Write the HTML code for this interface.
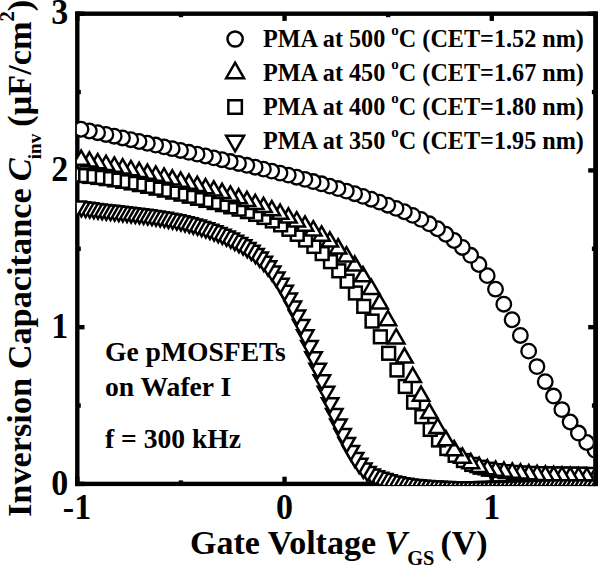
<!DOCTYPE html>
<html><head><meta charset="utf-8"><style>html,body{margin:0;padding:0;background:#fff;width:598px;height:566px;overflow:hidden}svg{display:block}</style></head>
<body><svg width="598" height="566" viewBox="0 0 598 566">
<defs><clipPath id="pc"><rect x="76.9" y="0" width="516.4" height="485.0"/></clipPath></defs>
<rect width="598" height="566" fill="#fff"/>
<g fill="#000">
<rect x="75.10" y="11.50" width="4.4" height="474.60"/>
<rect x="75.10" y="481.70" width="522.50" height="4.4"/>
<rect x="75.10" y="476.70" width="4.4" height="7.20"/><rect x="75.10" y="13.70" width="4.4" height="7.20"/><rect x="178.72" y="480.40" width="4.4" height="3.50"/><rect x="178.72" y="13.70" width="4.4" height="3.50"/><rect x="282.34" y="476.70" width="4.4" height="7.20"/><rect x="282.34" y="13.70" width="4.4" height="7.20"/><rect x="385.96" y="480.40" width="4.4" height="3.50"/><rect x="385.96" y="13.70" width="4.4" height="3.50"/><rect x="489.58" y="476.70" width="4.4" height="7.20"/><rect x="489.58" y="13.70" width="4.4" height="7.20"/><rect x="593.20" y="480.40" width="4.4" height="3.50"/><rect x="593.20" y="13.70" width="4.4" height="3.50"/><rect x="77.30" y="481.70" width="7.20" height="4.4"/><rect x="588.20" y="481.70" width="7.20" height="4.4"/><rect x="77.30" y="403.33" width="3.50" height="4.4"/><rect x="591.90" y="403.33" width="3.50" height="4.4"/><rect x="77.30" y="324.97" width="7.20" height="4.4"/><rect x="588.20" y="324.97" width="7.20" height="4.4"/><rect x="77.30" y="246.60" width="3.50" height="4.4"/><rect x="591.90" y="246.60" width="3.50" height="4.4"/><rect x="77.30" y="168.23" width="7.20" height="4.4"/><rect x="588.20" y="168.23" width="7.20" height="4.4"/><rect x="77.30" y="89.87" width="3.50" height="4.4"/><rect x="591.90" y="89.87" width="3.50" height="4.4"/><rect x="77.30" y="11.50" width="7.20" height="4.4"/><rect x="588.20" y="11.50" width="7.20" height="4.4"/>
</g>
<g clip-path="url(#pc)" fill="#fff" stroke="#000">
<g stroke-width="2.3"><circle cx="636.43" cy="473.70" r="7.3" /><circle cx="628.14" cy="469.19" r="7.3" /><circle cx="619.85" cy="464.69" r="7.3" /><circle cx="611.56" cy="460.18" r="7.3" /><circle cx="603.27" cy="455.67" r="7.3" /><circle cx="594.98" cy="450.12" r="7.3" /><circle cx="586.69" cy="442.50" r="7.3" /><circle cx="578.40" cy="433.04" r="7.3" /><circle cx="570.11" cy="421.99" r="7.3" /><circle cx="561.82" cy="409.59" r="7.3" /><circle cx="553.53" cy="396.06" r="7.3" /><circle cx="545.24" cy="381.66" r="7.3" /><circle cx="536.95" cy="366.60" r="7.3" /><circle cx="528.66" cy="351.14" r="7.3" /><circle cx="520.37" cy="335.46" r="7.3" /><circle cx="512.08" cy="319.75" r="7.3" /><circle cx="503.79" cy="304.20" r="7.3" /><circle cx="495.50" cy="289.15" r="7.3" /><circle cx="487.21" cy="275.64" r="7.3" /><circle cx="478.92" cy="264.48" r="7.3" /><circle cx="470.63" cy="255.29" r="7.3" /><circle cx="462.34" cy="247.44" r="7.3" /><circle cx="454.05" cy="240.48" r="7.3" /><circle cx="445.76" cy="234.27" r="7.3" /><circle cx="437.47" cy="228.74" r="7.3" /><circle cx="429.18" cy="223.80" r="7.3" /><circle cx="420.89" cy="219.37" r="7.3" /><circle cx="412.60" cy="215.38" r="7.3" /><circle cx="404.31" cy="211.74" r="7.3" /><circle cx="396.02" cy="208.37" r="7.3" /><circle cx="387.73" cy="205.19" r="7.3" /><circle cx="379.44" cy="202.14" r="7.3" /><circle cx="371.15" cy="199.21" r="7.3" /><circle cx="362.86" cy="196.39" r="7.3" /><circle cx="354.57" cy="193.69" r="7.3" /><circle cx="346.28" cy="191.08" r="7.3" /><circle cx="337.99" cy="188.57" r="7.3" /><circle cx="329.70" cy="186.14" r="7.3" /><circle cx="321.41" cy="183.80" r="7.3" /><circle cx="313.12" cy="181.53" r="7.3" /><circle cx="304.83" cy="179.34" r="7.3" /><circle cx="296.54" cy="177.20" r="7.3" /><circle cx="288.25" cy="175.12" r="7.3" /><circle cx="279.96" cy="173.09" r="7.3" /><circle cx="271.67" cy="171.10" r="7.3" /><circle cx="263.38" cy="169.14" r="7.3" /><circle cx="255.09" cy="167.22" r="7.3" /><circle cx="246.80" cy="165.32" r="7.3" /><circle cx="238.51" cy="163.43" r="7.3" /><circle cx="230.22" cy="161.56" r="7.3" /><circle cx="221.93" cy="159.69" r="7.3" /><circle cx="213.64" cy="157.83" r="7.3" /><circle cx="205.35" cy="155.98" r="7.3" /><circle cx="197.06" cy="154.13" r="7.3" /><circle cx="188.77" cy="152.30" r="7.3" /><circle cx="180.48" cy="150.47" r="7.3" /><circle cx="172.19" cy="148.66" r="7.3" /><circle cx="163.90" cy="146.85" r="7.3" /><circle cx="155.61" cy="145.05" r="7.3" /><circle cx="147.32" cy="143.26" r="7.3" /><circle cx="139.03" cy="141.48" r="7.3" /><circle cx="130.74" cy="139.70" r="7.3" /><circle cx="122.45" cy="137.94" r="7.3" /><circle cx="114.16" cy="136.18" r="7.3" /><circle cx="105.87" cy="134.44" r="7.3" /><circle cx="97.58" cy="132.71" r="7.3" /><circle cx="89.29" cy="130.98" r="7.3" /><circle cx="81.00" cy="129.26" r="7.3" /></g>
<g stroke-width="2.5"><rect x="631.57" y="472.09" width="12.8" height="12.8"/><rect x="623.26" y="471.15" width="12.8" height="12.8"/><rect x="614.95" y="470.21" width="12.8" height="12.8"/><rect x="606.64" y="469.36" width="12.8" height="12.8"/><rect x="598.33" y="468.72" width="12.8" height="12.8"/><rect x="590.02" y="468.26" width="12.8" height="12.8"/><rect x="581.71" y="467.96" width="12.8" height="12.8"/><rect x="573.40" y="467.76" width="12.8" height="12.8"/><rect x="565.09" y="467.65" width="12.8" height="12.8"/><rect x="556.78" y="467.57" width="12.8" height="12.8"/><rect x="548.47" y="467.50" width="12.8" height="12.8"/><rect x="540.16" y="467.41" width="12.8" height="12.8"/><rect x="531.85" y="467.24" width="12.8" height="12.8"/><rect x="523.54" y="466.98" width="12.8" height="12.8"/><rect x="515.23" y="466.58" width="12.8" height="12.8"/><rect x="506.92" y="466.01" width="12.8" height="12.8"/><rect x="498.61" y="465.24" width="12.8" height="12.8"/><rect x="490.30" y="464.21" width="12.8" height="12.8"/><rect x="481.99" y="462.83" width="12.8" height="12.8"/><rect x="473.68" y="460.84" width="12.8" height="12.8"/><rect x="465.37" y="458.02" width="12.8" height="12.8"/><rect x="457.06" y="454.12" width="12.8" height="12.8"/><rect x="448.75" y="448.90" width="12.8" height="12.8"/><rect x="440.44" y="442.13" width="12.8" height="12.8"/><rect x="432.13" y="433.57" width="12.8" height="12.8"/><rect x="423.82" y="422.98" width="12.8" height="12.8"/><rect x="415.51" y="410.25" width="12.8" height="12.8"/><rect x="407.20" y="395.78" width="12.8" height="12.8"/><rect x="398.89" y="380.06" width="12.8" height="12.8"/><rect x="390.58" y="363.59" width="12.8" height="12.8"/><rect x="382.27" y="346.88" width="12.8" height="12.8"/><rect x="373.96" y="330.41" width="12.8" height="12.8"/><rect x="365.65" y="314.67" width="12.8" height="12.8"/><rect x="357.34" y="299.97" width="12.8" height="12.8"/><rect x="349.03" y="286.60" width="12.8" height="12.8"/><rect x="340.72" y="274.79" width="12.8" height="12.8"/><rect x="332.41" y="264.41" width="12.8" height="12.8"/><rect x="324.10" y="255.28" width="12.8" height="12.8"/><rect x="315.79" y="247.21" width="12.8" height="12.8"/><rect x="307.48" y="240.01" width="12.8" height="12.8"/><rect x="299.17" y="233.61" width="12.8" height="12.8"/><rect x="290.86" y="227.92" width="12.8" height="12.8"/><rect x="282.55" y="222.89" width="12.8" height="12.8"/><rect x="274.24" y="218.45" width="12.8" height="12.8"/><rect x="265.93" y="214.53" width="12.8" height="12.8"/><rect x="257.62" y="211.06" width="12.8" height="12.8"/><rect x="249.31" y="207.99" width="12.8" height="12.8"/><rect x="241.00" y="205.23" width="12.8" height="12.8"/><rect x="232.69" y="202.74" width="12.8" height="12.8"/><rect x="224.38" y="200.44" width="12.8" height="12.8"/><rect x="216.07" y="198.26" width="12.8" height="12.8"/><rect x="207.76" y="196.15" width="12.8" height="12.8"/><rect x="199.45" y="194.03" width="12.8" height="12.8"/><rect x="191.14" y="191.93" width="12.8" height="12.8"/><rect x="182.83" y="189.83" width="12.8" height="12.8"/><rect x="174.52" y="187.76" width="12.8" height="12.8"/><rect x="166.21" y="185.73" width="12.8" height="12.8"/><rect x="157.90" y="183.75" width="12.8" height="12.8"/><rect x="149.59" y="181.83" width="12.8" height="12.8"/><rect x="141.28" y="179.98" width="12.8" height="12.8"/><rect x="132.97" y="178.22" width="12.8" height="12.8"/><rect x="124.66" y="176.55" width="12.8" height="12.8"/><rect x="116.35" y="174.98" width="12.8" height="12.8"/><rect x="108.04" y="173.54" width="12.8" height="12.8"/><rect x="99.73" y="172.23" width="12.8" height="12.8"/><rect x="91.42" y="171.06" width="12.8" height="12.8"/><rect x="83.11" y="170.05" width="12.8" height="12.8"/><rect x="74.80" y="169.20" width="12.8" height="12.8"/><rect x="66.49" y="168.43" width="12.8" height="12.8"/></g>
<g stroke-width="2.5" stroke-linejoin="miter"><path d="M636.58,468.33L644.80,482.58L628.35,482.58Z"/><path d="M628.29,468.38L636.51,482.63L620.06,482.63Z"/><path d="M620.00,468.43L628.23,482.68L611.77,482.68Z"/><path d="M611.71,468.45L619.94,482.69L603.49,482.69Z"/><path d="M603.42,468.40L611.65,482.65L595.20,482.65Z"/><path d="M595.13,468.30L603.36,482.54L586.91,482.54Z"/><path d="M586.84,468.13L595.07,482.37L578.62,482.37Z"/><path d="M578.55,467.89L586.78,482.13L570.33,482.13Z"/><path d="M570.26,467.58L578.49,481.83L562.04,481.83Z"/><path d="M561.97,467.21L570.20,481.46L553.75,481.46Z"/><path d="M553.68,466.77L561.91,481.02L545.46,481.02Z"/><path d="M545.39,466.26L553.62,480.50L537.17,480.50Z"/><path d="M537.10,465.67L545.33,479.92L528.88,479.92Z"/><path d="M528.81,465.02L537.04,479.26L520.59,479.26Z"/><path d="M520.52,464.28L528.75,478.53L512.30,478.53Z"/><path d="M512.23,463.47L520.46,477.72L504.01,477.72Z"/><path d="M503.94,462.59L512.17,476.84L495.72,476.84Z"/><path d="M495.65,461.56L503.88,475.80L487.43,475.80Z"/><path d="M487.36,460.04L495.59,474.29L479.14,474.29Z"/><path d="M479.07,457.63L487.30,471.88L470.85,471.88Z"/><path d="M470.78,453.92L479.01,468.17L462.56,468.17Z"/><path d="M462.49,448.52L470.72,462.76L454.27,462.76Z"/><path d="M454.20,441.01L462.43,455.25L445.98,455.25Z"/><path d="M445.91,431.06L454.14,445.30L437.69,445.30Z"/><path d="M437.62,418.63L445.85,432.88L429.40,432.88Z"/><path d="M429.33,403.76L437.56,418.01L421.11,418.01Z"/><path d="M421.04,386.58L429.27,400.83L412.82,400.83Z"/><path d="M412.75,367.76L420.98,382.00L404.53,382.00Z"/><path d="M404.46,348.28L412.69,362.53L396.24,362.53Z"/><path d="M396.17,329.14L404.40,343.39L387.95,343.39Z"/><path d="M387.88,310.97L396.11,325.21L379.66,325.21Z"/><path d="M379.59,294.33L387.82,308.57L371.37,308.57Z"/><path d="M371.30,279.68L379.53,293.92L363.08,293.92Z"/><path d="M363.01,267.05L371.24,281.30L354.79,281.30Z"/><path d="M354.72,256.33L362.95,270.57L346.50,270.57Z"/><path d="M346.43,247.17L354.66,261.42L338.21,261.42Z"/><path d="M338.14,239.25L346.37,253.50L329.92,253.50Z"/><path d="M329.85,232.37L338.08,246.62L321.62,246.62Z"/><path d="M321.56,226.39L329.79,240.63L313.33,240.63Z"/><path d="M313.27,221.13L321.50,235.38L305.04,235.38Z"/><path d="M304.98,216.46L313.20,230.71L296.75,230.71Z"/><path d="M296.69,212.22L304.91,226.46L288.46,226.46Z"/><path d="M288.40,208.26L296.62,222.51L280.17,222.51Z"/><path d="M280.11,204.57L288.33,218.81L271.88,218.81Z"/><path d="M271.82,201.10L280.04,215.34L263.59,215.34Z"/><path d="M263.53,197.83L271.75,212.08L255.30,212.08Z"/><path d="M255.24,194.75L263.46,209.00L247.01,209.00Z"/><path d="M246.95,191.83L255.17,206.08L238.72,206.08Z"/><path d="M238.66,189.05L246.88,203.29L230.43,203.29Z"/><path d="M230.37,186.38L238.59,200.63L222.14,200.63Z"/><path d="M222.08,183.82L230.30,198.07L213.85,198.07Z"/><path d="M213.79,181.36L222.01,195.61L205.56,195.61Z"/><path d="M205.50,179.00L213.72,193.25L197.27,193.25Z"/><path d="M197.21,176.73L205.43,190.97L188.98,190.97Z"/><path d="M188.92,174.54L197.14,188.78L180.69,188.78Z"/><path d="M180.63,172.42L188.85,186.67L172.40,186.67Z"/><path d="M172.34,170.37L180.56,184.62L164.11,184.62Z"/><path d="M164.05,168.39L172.27,182.64L155.82,182.64Z"/><path d="M155.76,166.46L163.98,180.71L147.53,180.71Z"/><path d="M147.47,164.58L155.69,178.83L139.24,178.83Z"/><path d="M139.18,162.75L147.40,177.00L130.95,177.00Z"/><path d="M130.89,160.95L139.11,175.20L122.66,175.20Z"/><path d="M122.60,159.18L130.82,173.43L114.37,173.43Z"/><path d="M114.31,157.44L122.53,171.69L106.08,171.69Z"/><path d="M106.02,155.71L114.24,169.96L97.79,169.96Z"/><path d="M97.73,154.00L105.95,168.24L89.50,168.24Z"/><path d="M89.44,152.28L97.66,166.53L81.22,166.53Z"/><path d="M81.15,150.57L89.38,164.82L72.93,164.82Z"/></g>
<g stroke-width="2.5" stroke-linejoin="miter"><path d="M636.87,497.96L645.10,483.71L628.65,483.71Z"/><path d="M632.73,497.69L640.95,483.44L624.50,483.44Z"/><path d="M628.58,497.41L636.81,483.17L620.36,483.17Z"/><path d="M624.44,497.14L632.66,482.89L616.21,482.89Z"/><path d="M620.29,496.87L628.52,482.62L612.07,482.62Z"/><path d="M616.15,496.59L624.37,482.35L607.92,482.35Z"/><path d="M612.00,496.32L620.23,482.07L603.78,482.07Z"/><path d="M607.86,496.05L616.08,481.80L599.63,481.80Z"/><path d="M603.71,495.77L611.94,481.53L595.49,481.53Z"/><path d="M599.57,495.50L607.79,481.25L591.34,481.25Z"/><path d="M595.42,495.25L603.65,481.00L587.20,481.00Z"/><path d="M591.28,495.04L599.50,480.79L583.05,480.79Z"/><path d="M587.13,494.86L595.36,480.61L578.91,480.61Z"/><path d="M582.99,494.71L591.21,480.47L574.76,480.47Z"/><path d="M578.84,494.60L587.07,480.36L570.62,480.36Z"/><path d="M574.70,494.52L582.92,480.27L566.47,480.27Z"/><path d="M570.55,494.46L578.78,480.22L562.33,480.22Z"/><path d="M566.41,494.43L574.63,480.19L558.18,480.19Z"/><path d="M562.26,494.43L570.49,480.18L554.04,480.18Z"/><path d="M558.12,494.44L566.34,480.20L549.89,480.20Z"/><path d="M553.97,494.48L562.20,480.23L545.75,480.23Z"/><path d="M549.83,494.53L558.05,480.29L541.60,480.29Z"/><path d="M545.68,494.60L553.91,480.36L537.46,480.36Z"/><path d="M541.54,494.69L549.76,480.44L533.31,480.44Z"/><path d="M537.39,494.79L545.62,480.54L529.17,480.54Z"/><path d="M533.25,494.90L541.47,480.65L525.02,480.65Z"/><path d="M529.10,495.01L537.33,480.77L520.88,480.77Z"/><path d="M524.96,495.14L533.18,480.89L516.73,480.89Z"/><path d="M520.81,495.27L529.04,481.02L512.59,481.02Z"/><path d="M516.67,495.40L524.89,481.15L508.44,481.15Z"/><path d="M512.52,495.53L520.75,481.29L504.30,481.29Z"/><path d="M508.38,495.67L516.60,481.42L500.15,481.42Z"/><path d="M504.23,495.80L512.46,481.55L496.01,481.55Z"/><path d="M500.09,495.92L508.31,481.68L491.86,481.68Z"/><path d="M495.94,496.04L504.17,481.80L487.72,481.80Z"/><path d="M491.80,496.15L500.02,481.91L483.57,481.91Z"/><path d="M487.65,496.26L495.88,482.01L479.43,482.01Z"/><path d="M483.51,496.34L491.73,482.10L475.28,482.10Z"/><path d="M479.36,496.42L487.59,482.17L471.14,482.17Z"/><path d="M475.22,496.48L483.44,482.23L466.99,482.23Z"/><path d="M471.07,496.52L479.30,482.28L462.85,482.28Z"/><path d="M466.93,496.54L475.15,482.30L458.70,482.30Z"/><path d="M462.78,496.55L471.01,482.30L454.56,482.30Z"/><path d="M458.64,496.52L466.86,482.28L450.41,482.28Z"/><path d="M454.49,496.48L462.72,482.23L446.27,482.23Z"/><path d="M450.35,496.40L458.57,482.15L442.12,482.15Z"/><path d="M446.20,496.30L454.43,482.05L437.98,482.05Z"/><path d="M442.06,496.16L450.28,481.92L433.83,481.92Z"/><path d="M437.91,495.99L446.14,481.75L429.69,481.75Z"/><path d="M433.77,495.79L441.99,481.55L425.54,481.55Z"/><path d="M429.62,495.55L437.85,481.31L421.40,481.31Z"/><path d="M425.48,495.28L433.70,481.03L417.25,481.03Z"/><path d="M421.33,494.96L429.56,480.71L413.11,480.71Z"/><path d="M417.19,494.59L425.41,480.35L408.96,480.35Z"/><path d="M413.04,494.17L421.27,479.92L404.82,479.92Z"/><path d="M408.90,493.67L417.12,479.42L400.67,479.42Z"/><path d="M404.75,493.08L412.98,478.83L396.53,478.83Z"/><path d="M400.61,492.38L408.83,478.14L392.38,478.14Z"/><path d="M396.46,491.57L404.69,477.33L388.24,477.33Z"/><path d="M392.32,490.64L400.54,476.39L384.09,476.39Z"/><path d="M388.17,489.57L396.40,475.32L379.95,475.32Z"/><path d="M384.03,488.36L392.25,474.11L375.80,474.11Z"/><path d="M379.88,487.00L388.11,472.76L371.66,472.76Z"/><path d="M375.74,485.49L383.96,471.25L367.51,471.25Z"/><path d="M371.59,483.65L379.82,469.41L363.37,469.41Z"/><path d="M367.45,481.18L375.67,466.93L359.22,466.93Z"/><path d="M363.30,477.75L371.53,463.50L355.08,463.50Z"/><path d="M359.16,473.10L367.38,458.85L350.93,458.85Z"/><path d="M355.01,467.22L363.24,452.97L346.79,452.97Z"/><path d="M350.87,460.22L359.09,445.98L342.64,445.98Z"/><path d="M346.72,452.22L354.95,437.97L338.50,437.97Z"/><path d="M342.58,443.32L350.80,429.08L334.35,429.08Z"/><path d="M338.43,433.65L346.66,419.40L330.21,419.40Z"/><path d="M334.29,423.30L342.51,409.06L326.06,409.06Z"/><path d="M330.14,412.41L338.37,398.16L321.92,398.16Z"/><path d="M326.00,401.08L334.22,386.84L317.77,386.84Z"/><path d="M321.85,389.51L330.08,375.27L313.63,375.27Z"/><path d="M317.71,377.89L325.94,363.64L309.48,363.64Z"/><path d="M313.56,366.41L321.79,352.16L305.34,352.16Z"/><path d="M309.42,355.25L317.65,341.01L301.19,341.01Z"/><path d="M305.28,344.53L313.50,330.28L297.05,330.28Z"/><path d="M301.13,334.33L309.36,320.08L292.91,320.08Z"/><path d="M296.99,324.74L305.21,310.50L288.76,310.50Z"/><path d="M292.84,315.85L301.07,301.60L284.62,301.60Z"/><path d="M288.70,307.63L296.92,293.39L280.47,293.39Z"/><path d="M284.55,300.05L292.78,285.81L276.33,285.81Z"/><path d="M280.41,293.08L288.63,278.83L272.18,278.83Z"/><path d="M276.26,286.67L284.49,272.42L268.04,272.42Z"/><path d="M272.12,280.83L280.34,266.58L263.89,266.58Z"/><path d="M267.97,275.57L276.20,261.32L259.75,261.32Z"/><path d="M263.83,270.89L272.05,256.65L255.60,256.65Z"/><path d="M259.68,266.79L267.91,252.54L251.46,252.54Z"/><path d="M255.54,263.19L263.76,248.94L247.31,248.94Z"/><path d="M251.39,260.01L259.62,245.76L243.17,245.76Z"/><path d="M247.25,257.16L255.47,242.91L239.02,242.91Z"/><path d="M243.10,254.54L251.33,240.30L234.88,240.30Z"/><path d="M238.96,252.13L247.18,237.88L230.73,237.88Z"/><path d="M234.81,249.89L243.04,235.64L226.59,235.64Z"/><path d="M230.67,247.79L238.89,233.54L222.44,233.54Z"/><path d="M226.52,245.81L234.75,231.57L218.30,231.57Z"/><path d="M222.38,243.95L230.60,229.70L214.15,229.70Z"/><path d="M218.23,242.19L226.46,227.94L210.01,227.94Z"/><path d="M214.09,240.54L222.31,226.29L205.86,226.29Z"/><path d="M209.94,238.98L218.17,224.73L201.72,224.73Z"/><path d="M205.80,237.51L214.02,223.27L197.57,223.27Z"/><path d="M201.65,236.14L209.88,221.89L193.43,221.89Z"/><path d="M197.51,234.85L205.73,220.61L189.28,220.61Z"/><path d="M193.36,233.64L201.59,219.40L185.14,219.40Z"/><path d="M189.22,232.52L197.44,218.27L180.99,218.27Z"/><path d="M185.07,231.46L193.30,217.21L176.85,217.21Z"/><path d="M180.93,230.47L189.15,216.22L172.70,216.22Z"/><path d="M176.78,229.55L185.01,215.30L168.56,215.30Z"/><path d="M172.64,228.68L180.86,214.44L164.41,214.44Z"/><path d="M168.49,227.88L176.72,213.63L160.27,213.63Z"/><path d="M164.35,227.12L172.57,212.87L156.12,212.87Z"/><path d="M160.20,226.41L168.43,212.17L151.98,212.17Z"/><path d="M156.06,225.75L164.28,211.50L147.83,211.50Z"/><path d="M151.91,225.12L160.13,210.88L143.69,210.88Z"/><path d="M147.76,224.53L155.99,210.29L139.54,210.29Z"/><path d="M143.62,223.97L151.84,209.73L135.39,209.73Z"/><path d="M139.47,223.44L147.70,209.20L131.25,209.20Z"/><path d="M135.33,222.93L143.55,208.69L127.10,208.69Z"/><path d="M131.18,222.44L139.41,208.19L122.96,208.19Z"/><path d="M127.04,221.96L135.26,207.72L118.81,207.72Z"/><path d="M122.89,221.49L131.12,207.25L114.67,207.25Z"/><path d="M118.75,221.03L126.97,206.79L110.52,206.79Z"/><path d="M114.60,220.57L122.83,206.32L106.38,206.32Z"/><path d="M110.46,220.11L118.68,205.86L102.23,205.86Z"/><path d="M106.31,219.63L114.54,205.39L98.09,205.39Z"/><path d="M102.17,219.15L110.39,204.91L93.94,204.91Z"/><path d="M98.02,218.65L106.25,204.41L89.80,204.41Z"/><path d="M93.88,218.14L102.10,203.89L85.65,203.89Z"/><path d="M89.73,217.59L97.96,203.35L81.51,203.35Z"/><path d="M85.59,217.02L93.81,202.78L77.36,202.78Z"/><path d="M81.44,216.42L89.67,202.18L73.22,202.18Z"/><path d="M77.30,215.78L85.52,201.54L69.08,201.54Z"/></g>
</g>
<g fill="#000">
<rect x="75.10" y="11.50" width="522.50" height="4.4"/>
<rect x="593.20" y="11.50" width="4.80" height="474.60"/>
</g>
<g fill="#fff" stroke="#000" stroke-width="2.5"><circle cx="235.10" cy="39.00" r="7.6" /><path d="M235.10,62.67L244.05,78.17L226.15,78.17Z"/><rect x="228.35" y="100.25" width="13.5" height="13.5"/><path d="M235.10,151.33L244.05,135.83L226.15,135.83Z"/></g>
<g font-family="'Liberation Serif', serif" font-weight="bold" fill="#000">
<text x="263" y="46.70" font-size="24.2">PMA at 500 <tspan font-size="15.00" dy="-11.49">o</tspan><tspan dy="11.49">C (CET=1.52 nm)</tspan></text><text x="263" y="80.70" font-size="24.2">PMA at 450 <tspan font-size="15.00" dy="-11.49">o</tspan><tspan dy="11.49">C (CET=1.67 nm)</tspan></text><text x="263" y="114.70" font-size="24.2">PMA at 400 <tspan font-size="15.00" dy="-11.49">o</tspan><tspan dy="11.49">C (CET=1.80 nm)</tspan></text><text x="263" y="148.70" font-size="24.2">PMA at 350 <tspan font-size="15.00" dy="-11.49">o</tspan><tspan dy="11.49">C (CET=1.95 nm)</tspan></text>
<text x="105" y="361.3" font-size="27.6">Ge pMOSFETs</text>
<text x="105" y="396.3" font-size="27.6">on Wafer I</text>
<text x="105" y="448.2" font-size="27.6">f = 300 kHz</text>
<g font-size="34" text-anchor="middle">
<text transform="translate(77.00,519) scale(1,1.06)">-1</text>
<text transform="translate(284.54,519) scale(1,1.06)">0</text>
<text transform="translate(491.78,519) scale(1,1.06)">1</text>
</g>
<g font-size="34" text-anchor="end">
<text transform="translate(68.2,494.50) scale(1,1.06)">0</text>
<text transform="translate(68.2,337.77) scale(1,1.06)">1</text>
<text transform="translate(68.2,181.03) scale(1,1.06)">2</text>
<text transform="translate(68.2,24.30) scale(1,1.06)">3</text>
</g>
<text x="190" y="554" font-size="34">Gate Voltage <tspan font-style="italic">V</tspan><tspan font-size="20.40" dy="11.39">GS</tspan><tspan dy="-11.39" dx="-2.5"> (V)</tspan></text>
<text transform="translate(31,517) rotate(-90)" font-size="34.3">Inversion Capacitance <tspan font-style="italic" dx="-1.5">C</tspan><tspan font-size="19.21" dy="10.29" dx="-1">inv</tspan><tspan dy="-10.29" dx="-1.5"> (μF/cm</tspan><tspan font-size="20.58" dy="-17.15">2</tspan><tspan dy="17.15">)</tspan></text>
</g>
</svg></body></html>
